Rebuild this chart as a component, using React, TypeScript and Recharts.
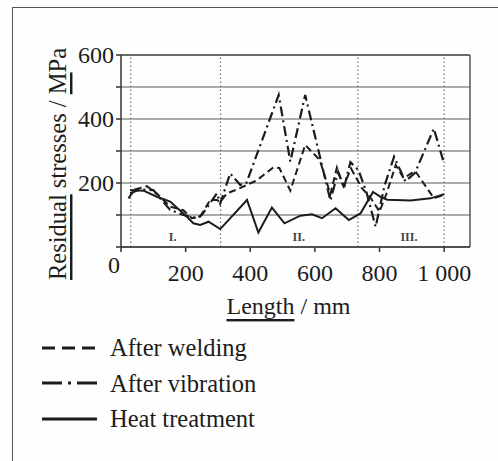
import React from 'react';
import { LineChart, Line, XAxis, YAxis, CartesianGrid, ReferenceLine, ReferenceDot, Legend } from 'recharts';

const heatX = [28, 70, 111, 152, 193, 224, 245, 271, 307, 390, 425, 467, 506, 555, 591, 622, 664, 705, 741, 780, 803, 824, 896, 958, 1000];
const heatY = [178, 176, 157, 142, 105, 74, 69, 79, 56, 147, 45, 123, 74, 98, 102, 90, 121, 84, 105, 172, 157, 148, 145, 152, 165];

const weldX = [23, 43, 80, 111, 152, 193, 219, 245, 276, 297, 307, 328, 360, 421, 472, 490, 524, 570, 615, 648, 668, 688, 712, 745, 775, 800, 822, 850, 875, 910, 968, 1000];
const weldY = [152, 180, 190, 167, 126, 115, 90, 95, 147, 147, 140, 168, 180, 209, 249, 247, 176, 319, 272, 165, 248, 190, 245, 185, 150, 110, 168, 256, 215, 238, 153, 162];

const vibX = [28, 59, 100, 152, 193, 235, 250, 297, 307, 338, 369, 388, 488, 524, 570, 648, 672, 690, 710, 735, 760, 788, 815, 845, 880, 910, 968, 1000];
const vibY = [168, 180, 178, 116, 100, 90, 100, 168, 136, 230, 194, 200, 475, 267, 475, 145, 235, 185, 265, 240, 170, 63, 190, 282, 205, 232, 370, 260];

const xTicks = [0, 200, 400, 600, 800, 1000];
const yTicks = [0, 100, 200, 300, 400, 500, 600];
const yLabelTicks = [0, 200, 400, 600];
const regionLines = [30, 308, 733, 1000];
const regionLabels = ['I.', 'II.', 'III.'];
const regionLabelX = [160, 550, 891];

const seriesNames = ['After welding', 'After vibration', 'Heat treatment'];

const build = (xs: number[], ys: number[]) => xs.map((x, i) => ({ x, y: ys[i] }));

const FONT = '"Liberation Serif", "Times New Roman", serif';
const INK = '#1c1c1c';

const formatX = (v: number) => (v >= 1000 ? `${Math.floor(v / 1000)} ${String(v % 1000).padStart(3, '0')}` : String(v));

const YTick = (props: any) => {
  const { x, y, payload } = props;
  const v = payload.value;
  if (!yLabelTicks.includes(v)) return null;
  if (v === 0) {
    return (
      <text x={x + 6} y={y + 18} textAnchor="end" dominantBaseline="central" fontFamily={FONT} fontSize={24} fill={INK}>0</text>
    );
  }
  return (
    <text x={x} y={y} textAnchor="end" dominantBaseline="central" fontFamily={FONT} fontSize={24} fill={INK}>{v}</text>
  );
};

const XTick = (props: any) => {
  const { x, y, payload } = props;
  if (payload.value === 0) return null;
  return (
    <text x={x} y={y + 19} textAnchor="middle" dominantBaseline="central" fontFamily={FONT} fontSize={24} fill={INK}>{formatX(payload.value)}</text>
  );
};

const YLabel = (props: any) => {
  const vb = props.viewBox;
  const cx = vb.x - 4;
  const cy = vb.y + vb.height / 2 + 13;
  return (
    <text x={cx} y={cy} transform={`rotate(-90 ${cx} ${cy})`} textAnchor="middle" dominantBaseline="central" fontFamily={FONT} fontSize={24.5} fill={INK}>
      <tspan textDecoration="underline">Residual</tspan>
      <tspan> stresses / </tspan>
      <tspan textDecoration="underline">M</tspan>
      <tspan>Pa</tspan>
    </text>
  );
};

const XLabel = (props: any) => {
  const vb = props.viewBox;
  const cx = vb.x + vb.width / 2 - 7;
  const cy = vb.y + 59;
  return (
    <text x={cx} y={cy} textAnchor="middle" dominantBaseline="central" fontFamily={FONT} fontSize={24} fill={INK}>
      <tspan textDecoration="underline">Length</tspan>
      <tspan> / mm</tspan>
    </text>
  );
};

const legendDash: Record<string, string | undefined> = {
  'After welding': '13 7',
  'After vibration': '20 6 3 6 10 0',
  'Heat treatment': undefined,
};

const LegendContent = () => {
  return (
    <div style={{ width: 320, height: 106 }}>
      {seriesNames.map((name) => (
        <div key={name} style={{ display: 'flex', alignItems: 'center', height: 35.5 }}>
          <svg width={68} height={10} style={{ display: 'block', flex: 'none' }}>
            <line x1={0} y1={5} x2={55} y2={5} stroke={INK} strokeWidth={3} strokeDasharray={legendDash[name]} />
          </svg>
          <span style={{ fontFamily: FONT, fontSize: 24.5, color: INK, lineHeight: '35.5px', whiteSpace: 'nowrap' }}>{name}</span>
        </div>
      ))}
    </div>
  );
};

export default function App() {
  return (
    <div style={{ position: 'absolute', left: 0, top: 0, width: 498, height: 461, background: '#fefefe' }}>
      <div style={{ position: 'absolute', left: 12, top: 7, width: 486, height: 454, borderLeft: '1.5px solid #555', borderTop: '1.5px solid #555' }} />
      <LineChart width={498} height={461} margin={{ top: 55, right: 28, left: 61, bottom: 78 }} style={{ position: 'absolute', left: 0, top: 0 }}>
        <CartesianGrid horizontal vertical={false} stroke="#8f8f8f" strokeWidth={1.6} />
        <XAxis
          type="number"
          dataKey="x"
          domain={[0, 1080]}
          ticks={xTicks}
          tick={<XTick />}
          tickLine={{ stroke: '#333', strokeWidth: 1.5 }}
          tickSize={5}
          axisLine={{ stroke: '#333', strokeWidth: 1.5 }}
          height={30}
          allowDataOverflow
          label={<XLabel />}
        />
        <YAxis
          type="number"
          dataKey="y"
          domain={[0, 600]}
          ticks={yTicks}
          tick={<YTick />}
          tickLine={{ stroke: '#333', strokeWidth: 1.5 }}
          tickSize={5}
          axisLine={{ stroke: '#333', strokeWidth: 1.5 }}
          width={60}
          label={<YLabel />}
        />
        <ReferenceLine y={600} stroke="#555" strokeWidth={1.5} />
        <ReferenceLine x={1080} stroke="#555" strokeWidth={1.5} />
        {regionLines.map((v) => (
          <ReferenceLine key={v} x={v} stroke="#777" strokeWidth={1.3} strokeDasharray="1.5 2.5" />
        ))}
        {regionLabels.map((t, i) => (
          <ReferenceDot
            key={t}
            x={regionLabelX[i]}
            y={31}
            r={0}
            fill="none"
            stroke="none"
            label={{ value: t, position: 'center', fontFamily: FONT, fontSize: 12, fontWeight: 'bold', fill: '#444' }}
          />
        ))}
        <Line
          data={build(weldX, weldY)}
          dataKey="y"
          name={seriesNames[0]}
          stroke={INK}
          strokeWidth={2}
          strokeDasharray="7 4"
          dot={false}
          isAnimationActive={false}
        />
        <Line
          data={build(vibX, vibY)}
          dataKey="y"
          name={seriesNames[1]}
          stroke={INK}
          strokeWidth={2.2}
          strokeDasharray="10 4 2 4"
          dot={false}
          isAnimationActive={false}
        />
        <Line
          data={build(heatX, heatY)}
          dataKey="y"
          name={seriesNames[2]}
          stroke={INK}
          strokeWidth={2}
          dot={false}
          isAnimationActive={false}
        />
        <Legend
          verticalAlign="bottom"
          align="center"
          layout="horizontal"
          content={<LegendContent />}
          wrapperStyle={{ left: 42, top: 330, width: 320, height: 106 }}
        />
      </LineChart>
    </div>
  );
}
